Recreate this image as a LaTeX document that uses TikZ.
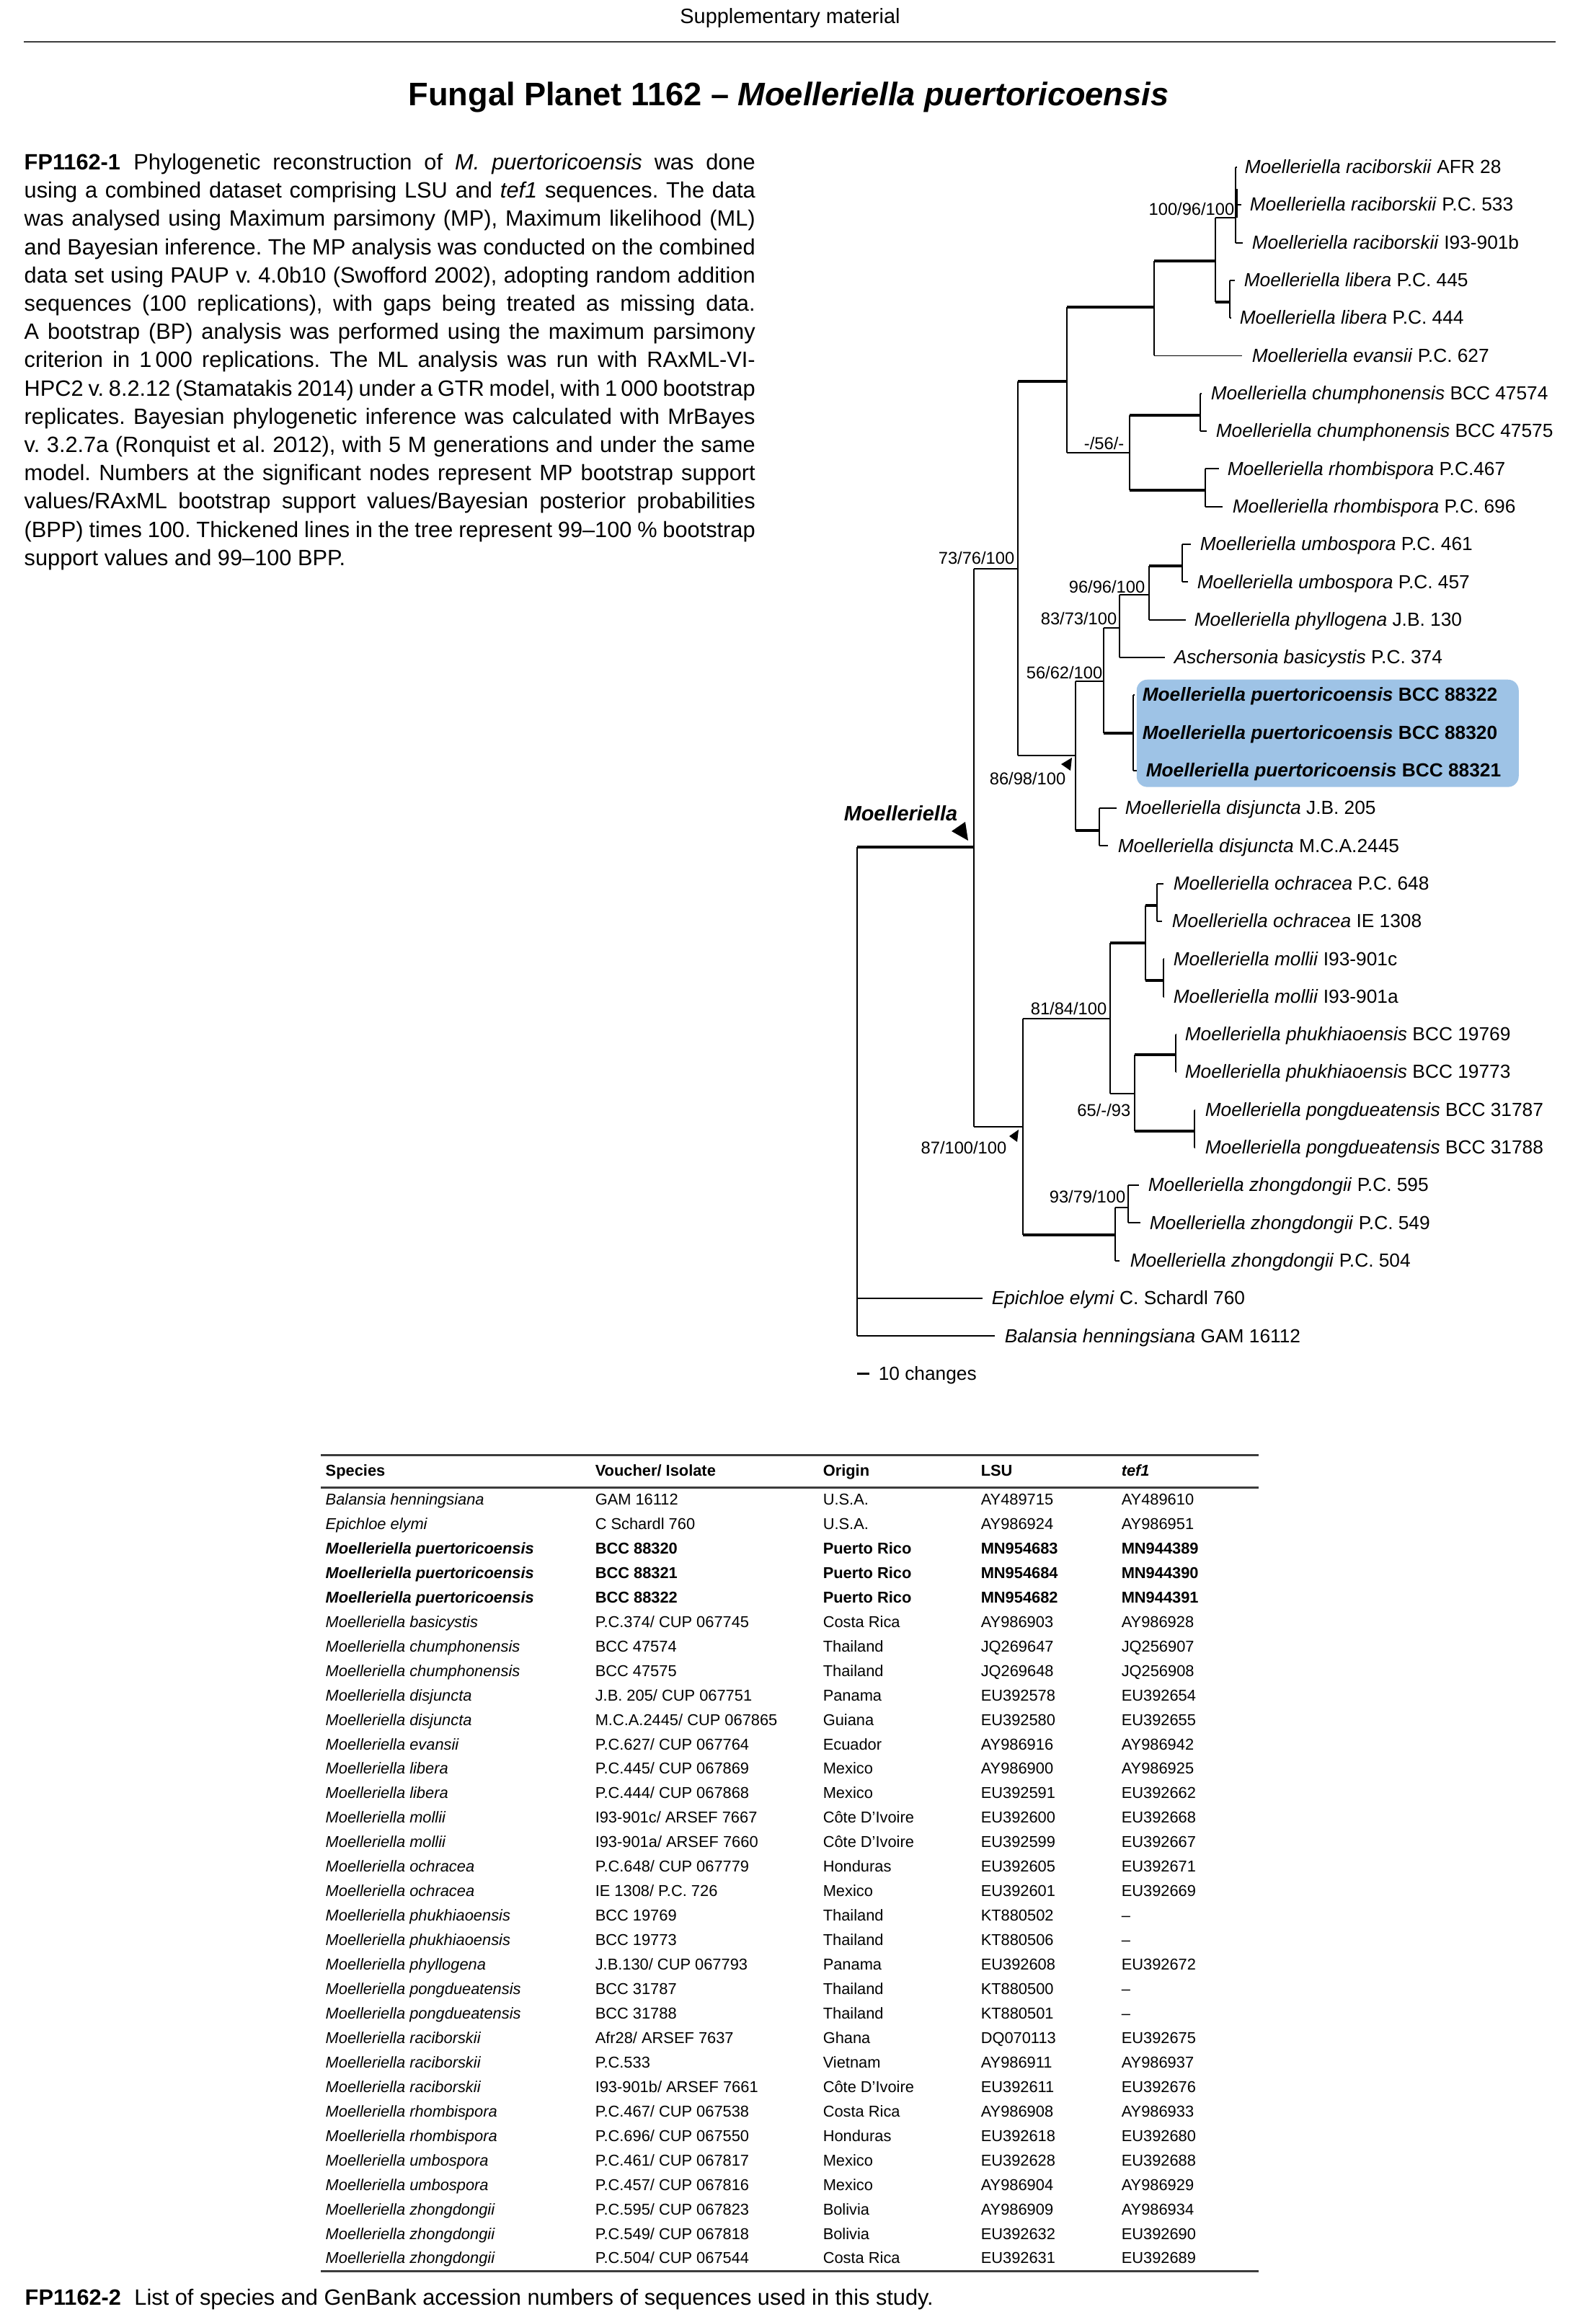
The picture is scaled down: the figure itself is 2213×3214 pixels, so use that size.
\documentclass[tikz,border=0pt]{standalone}
\usepackage{fontspec}
\setmainfont{Liberation Sans}
\frenchspacing
\definecolor{boxblue}{RGB}{158,195,230}
\definecolor{rulegray}{RGB}{60,60,60}
\newcommand{\phyleaf}[4]{%
  \pgfmathsetmacro{\ly}{232+52.3*#1}%
  \coordinate (t#1) at (#2,\ly);
  \node[leaflab] (l#1) at (#3,\ly+8.7) {#4};%
}
\newcommand{\vlink}[3]{\draw[thinbr] (#2 -| #1) -- (#3 -| #1);}
\newcommand{\hlink}[3][thinbr]{\draw[#1] (#3 -| #2) -- (#3);}
\newcommand{\tabrow}[6]{%
  \pgfmathsetmacro{\ry}{2087.5+33.95*(#1-1)}%
  \node[tcell] (sp#1) at (451,\ry) {#2};
  \node[tcell] (vo#1) at (825,\ry) {#3};
  \node[tcell] (or#1) at (1141,\ry) {#4};
  \node[tcell] (ls#1) at (1360,\ry) {#5};
  \node[tcell] (te#1) at (1555,\ry) {#6};%
}
\newcommand{\bodyln}[3]{\node[bodyline] (p#1) at (33,{235.5+39.2*(#1-1)}) {\makebox[273.8pt][s]{#3}};}
\tikzset{
  thinbr/.style={line width=0.5pt},
  thickbr/.style={line width=1.25pt},
  leaflab/.style={anchor=base west, inner sep=0pt, font=\fontsize{7.1}{8}\selectfont},
  suplab/.style={anchor=base east, inner sep=0pt, font=\fontsize{6.4}{7}\selectfont},
  tcell/.style={anchor=base west, inner sep=0pt, font=\fontsize{5.9}{7}\selectfont},
  bodyline/.style={anchor=base west, inner sep=0pt, font=\fontsize{8.3}{10}\selectfont},
  tabrule/.style={line width=0.8pt, draw=rulegray},
}
\begin{document}
\begin{tikzpicture}[x=0.27pt, y=-0.27pt]
\useasboundingbox (0,0) rectangle (2213,3214);
\fill[white] (0,0) rectangle (2213,3214);

% header
\node[anchor=base, inner sep=0pt, font=\fontsize{7.8}{9}\selectfont] (hdr) at (1096,33) {Supplementary material};
\coordinate (hl1) at (33,58); \coordinate (hl2) at (2158,58);
\draw[line width=0.7pt, draw=rulegray] (hl1) -- (hl2);
\node[anchor=base, inner sep=0pt, font=\fontsize{12.2}{14}\selectfont\bfseries] (title) at (1094,146.7) {Fungal Planet 1162 – \textit{Moelleriella puertoricoensis}};

% body text
\bodyln{1}{}{\textbf{FP1162-1}\hspace{0.6em}Phylogenetic reconstruction of \textit{M. puertoricoensis} was done}
\bodyln{2}{}{using a combined dataset comprising LSU and \textit{tef1} sequences. The data}
\bodyln{3}{}{was analysed using Maximum parsimony (MP), Maximum likelihood (ML)}
\bodyln{4}{}{and Bayesian inference. The MP analysis was conducted on the combined}
\bodyln{5}{}{data set using PAUP v. 4.0b10 (Swofford 2002), adopting random addition}
\bodyln{6}{}{sequences (100 replications), with gaps being treated as missing data.}
\bodyln{7}{}{A bootstrap (BP) analysis was performed using the maximum parsimony}
\bodyln{8}{}{criterion in 1\,000 replications. The ML analysis was run with RAxML-VI-}
\bodyln{9}{}{HPC2 v. 8.2.12 (Stamatakis 2014) under a GTR model, with 1\,000 bootstrap}
\bodyln{10}{}{replicates. Bayesian phylogenetic inference was calculated with MrBayes}
\bodyln{11}{}{v. 3.2.7a (Ronquist et al. 2012), with 5 M generations and under the same}
\bodyln{12}{}{model. Numbers at the significant nodes represent MP bootstrap support}
\bodyln{13}{}{values/RAxML bootstrap support values/Bayesian posterior probabilities}
\bodyln{14}{}{(BPP) times 100. Thickened lines in the tree represent 99–100 \% bootstrap}
\node[bodyline] (p15) at (33,{235.5+39.2*14}) {support values and 99–100 BPP.};

% highlight box
\node[fill=boxblue, rounded corners=4pt, inner sep=0pt, minimum width=143.1pt, minimum height=40.2pt, anchor=north west] (hbox) at (1576,942) {};

% leaves
\phyleaf{0}{1716}{1726}{\textit{Moelleriella raciborskii} AFR 28}
\phyleaf{1}{1722}{1733}{\textit{Moelleriella raciborskii} P.C. 533}
\phyleaf{2}{1724}{1736}{\textit{Moelleriella raciborskii} I93-901b}
\phyleaf{3}{1713}{1725}{\textit{Moelleriella libera} P.C. 445}
\phyleaf{4}{1708}{1719}{\textit{Moelleriella libera} P.C. 444}
\phyleaf{5}{1723}{1736}{\textit{Moelleriella evansii} P.C. 627}
\phyleaf{6}{1667}{1679}{\textit{Moelleriella chumphonensis} BCC 47574}
\phyleaf{7}{1674}{1686}{\textit{Moelleriella chumphonensis} BCC 47575}
\phyleaf{8}{1691}{1702}{\textit{Moelleriella rhombispora} P.C.467}
\phyleaf{9}{1696}{1709}{\textit{Moelleriella rhombispora} P.C. 696}
\phyleaf{10}{1652}{1664}{\textit{Moelleriella umbospora} P.C. 461}
\phyleaf{11}{1648}{1660}{\textit{Moelleriella umbospora} P.C. 457}
\phyleaf{12}{1645}{1656}{\textit{Moelleriella phyllogena} J.B. 130}
\phyleaf{13}{1616}{1628}{\textit{Aschersonia basicystis} P.C. 374}
\phyleaf{14}{1574}{1584}{\textbf{\textit{Moelleriella puertoricoensis} BCC 88322}}
\phyleaf{15}{1572}{1584}{\textbf{\textit{Moelleriella puertoricoensis} BCC 88320}}
\phyleaf{16}{1577}{1589}{\textbf{\textit{Moelleriella puertoricoensis} BCC 88321}}
\phyleaf{17}{1549}{1560}{\textit{Moelleriella disjuncta} J.B. 205}
\phyleaf{18}{1537}{1550}{\textit{Moelleriella disjuncta} M.C.A.2445}
\phyleaf{19}{1614}{1627}{\textit{Moelleriella ochracea} P.C. 648}
\phyleaf{20}{1612}{1625}{\textit{Moelleriella ochracea} IE 1308}
\phyleaf{21}{1615}{1627}{\textit{Moelleriella mollii} I93-901c}
\phyleaf{22}{1615}{1627}{\textit{Moelleriella mollii} I93-901a}
\phyleaf{23}{1632}{1643}{\textit{Moelleriella phukhiaoensis} BCC 19769}
\phyleaf{24}{1632}{1643}{\textit{Moelleriella phukhiaoensis} BCC 19773}
\phyleaf{25}{1658}{1671}{\textit{Moelleriella pongdueatensis} BCC 31787}
\phyleaf{26}{1658}{1671}{\textit{Moelleriella pongdueatensis} BCC 31788}
\phyleaf{27}{1580}{1592}{\textit{Moelleriella zhongdongii} P.C. 595}
\phyleaf{28}{1582}{1594}{\textit{Moelleriella zhongdongii} P.C. 549}
\phyleaf{29}{1553}{1567}{\textit{Moelleriella zhongdongii} P.C. 504}
\phyleaf{30}{1363}{1375}{\textit{Epichloe elymi} C. Schardl 760}
\phyleaf{31}{1380}{1393}{\textit{Balansia henningsiana} GAM 16112}

% internal nodes
\coordinate (root) at (1189,1175);
\coordinate (D) at (1351,1175);
\coordinate (C) at (1412,789);
\coordinate (B) at (1480,529);
\coordinate (A) at (1601,426);
\coordinate (RL) at (1686,362);
\coordinate (Rac) at (1714,302);
\coordinate (Lib) at (1706,419);
\coordinate (CR) at (1567,628);
\coordinate (Ch) at (1665,576);
\coordinate (Rh) at (1672,680);
\coordinate (E) at (1492,1048);
\coordinate (F) at (1531,945);
\coordinate (G) at (1553,871);
\coordinate (H) at (1594,825);
\coordinate (U) at (1640,785);
\coordinate (P) at (1572,1017);
\coordinate (Dis) at (1525,1152);
\coordinate (I) at (1419,1563);
\coordinate (J) at (1540,1413);
\coordinate (K) at (1589,1308);
\coordinate (O) at (1605,1256);
\coordinate (Mo) at (1614,1360);
\coordinate (L) at (1574,1517);
\coordinate (Ph) at (1631,1463);
\coordinate (Po) at (1657,1569);
\coordinate (Z) at (1547,1713);
\coordinate (Z2) at (1565,1675);

% verticals
\vlink{root}{D}{t31}
\vlink{D}{C}{I}
\vlink{C}{B}{E}
\vlink{B}{A}{CR}
\vlink{A}{RL}{t5}
\vlink{RL}{Rac}{Lib}
\vlink{Rac}{t0}{t2}
\vlink{Lib}{t3}{t4}
\vlink{CR}{Ch}{Rh}
\vlink{Ch}{t6}{t7}
\vlink{Rh}{t8}{t9}
\vlink{E}{F}{Dis}
\vlink{F}{G}{P}
\vlink{G}{H}{t13}
\vlink{H}{U}{t12}
\vlink{U}{t10}{t11}
\vlink{P}{t14}{t16}
\vlink{Dis}{t17}{t18}
\vlink{I}{J}{Z}
\vlink{J}{K}{L}
\vlink{K}{O}{Mo}
\vlink{O}{t19}{t20}
\vlink{Mo}{t21}{t22}
\vlink{L}{Ph}{Po}
\vlink{Ph}{t23}{t24}
\vlink{Po}{t25}{t26}
\vlink{Z}{Z2}{t29}
\vlink{Z2}{t27}{t28}
\draw[thickbr] (1715,262) -- (1715,302);

% horizontals
\hlink[thickbr]{root}{D}
\hlink{root}{t30}
\hlink{root}{t31}
\hlink{D}{C}
\hlink{D}{I}
\hlink[thickbr]{C}{B}
\hlink{C}{E}
\hlink[thickbr]{B}{A}
\hlink{B}{CR}
\hlink[thickbr]{A}{RL}
\hlink{A}{t5}
\hlink{RL}{Rac}
\hlink[thickbr]{RL}{Lib}
\hlink{Rac}{t0}
\hlink{Rac}{t1}
\hlink{Rac}{t2}
\hlink{Lib}{t3}
\hlink{Lib}{t4}
\hlink[thickbr]{CR}{Ch}
\hlink[thickbr]{CR}{Rh}
\hlink{Ch}{t6}
\hlink{Ch}{t7}
\hlink{Rh}{t8}
\hlink{Rh}{t9}
\hlink{E}{F}
\hlink[thickbr]{E}{Dis}
\hlink{F}{G}
\hlink[thickbr]{F}{P}
\hlink{G}{H}
\hlink{G}{t13}
\hlink[thickbr]{H}{U}
\hlink{H}{t12}
\hlink{U}{t10}
\hlink{U}{t11}
\hlink{P}{t14}
\hlink{P}{t15}
\hlink{P}{t16}
\hlink{Dis}{t17}
\hlink{Dis}{t18}
\hlink{I}{J}
\hlink[thickbr]{I}{Z}
\hlink[thickbr]{J}{K}
\hlink{J}{L}
\hlink[thickbr]{K}{O}
\hlink[thickbr]{K}{Mo}
\hlink{O}{t19}
\hlink{O}{t20}
\hlink{Mo}{t21}
\hlink{Mo}{t22}
\hlink[thickbr]{L}{Ph}
\hlink[thickbr]{L}{Po}
\hlink{Ph}{t23}
\hlink{Ph}{t24}
\hlink{Po}{t25}
\hlink{Po}{t26}
\hlink{Z}{Z2}
\hlink{Z}{t29}
\hlink{Z2}{t27}
\hlink{Z2}{t28}

% support values
\node[suplab] (sRac) at (1713,299) {100/96/100};
\node[suplab] (sC) at (1408,782) {73/76/100};
\node[suplab] (sCR) at (1560,623) {-/56/-};
\node[suplab] (sH) at (1589,822) {96/96/100};
\node[suplab] (sG) at (1550,866) {83/73/100};
\node[suplab] (sF) at (1530,941) {56/62/100};
\node[suplab] (sE) at (1479,1088) {86/98/100};
\node[suplab] (sJ) at (1536,1407) {81/84/100};
\node[suplab] (sL) at (1569,1548) {65/-/93};
\node[suplab] (sI) at (1397,1600) {87/100/100};
\node[suplab] (sZ2) at (1562,1668) {93/79/100};

% markers
\fill (1472,1060) -- (1487,1051) -- (1485,1069) -- cycle;
\fill (1400,1576) -- (1413,1567) -- (1411,1584) -- cycle;
\fill (1339,1140) -- (1343,1166) -- (1320,1153) -- cycle;
\node[anchor=base west, inner sep=0pt, font=\fontsize{7.8}{9}\selectfont\bfseries\itshape] (clade) at (1170,1138) {Moelleriella};

% scale bar
\coordinate (sb1) at (1189,1905); \coordinate (sb2) at (1206,1905);
\draw[line width=0.8pt] (sb1) -- (sb2);
\node[leaflab] (sbl) at (1218,1914) {10 changes};

% table
\coordinate (r1a) at (445,2018); \coordinate (r1b) at (1746,2018);
\coordinate (r2a) at (445,2063); \coordinate (r2b) at (1746,2063);
\coordinate (r3a) at (445,3150); \coordinate (r3b) at (1746,3150);
\draw[tabrule] (r1a) -- (r1b);
\draw[tabrule] (r2a) -- (r2b);
\draw[tabrule] (r3a) -- (r3b);
\node[tcell, font=\fontsize{5.9}{7}\selectfont\bfseries] (h1) at (451,2047.3) {Species};
\node[tcell, font=\fontsize{5.9}{7}\selectfont\bfseries] (h2) at (825,2047.3) {Voucher/ Isolate};
\node[tcell, font=\fontsize{5.9}{7}\selectfont\bfseries] (h3) at (1141,2047.3) {Origin};
\node[tcell, font=\fontsize{5.9}{7}\selectfont\bfseries] (h4) at (1360,2047.3) {LSU};
\node[tcell, font=\fontsize{5.9}{7}\selectfont\bfseries\itshape] (h5) at (1555,2047.3) {tef1};

\tabrow{1}{\textit{Balansia henningsiana}}{GAM 16112}{U.S.A.}{AY489715}{AY489610}
\tabrow{2}{\textit{Epichloe elymi}}{C Schardl 760}{U.S.A.}{AY986924}{AY986951}
\tabrow{3}{\textbf{\textit{Moelleriella puertoricoensis}}}{\textbf{BCC 88320}}{\textbf{Puerto Rico}}{\textbf{MN954683}}{\textbf{MN944389}}
\tabrow{4}{\textbf{\textit{Moelleriella puertoricoensis}}}{\textbf{BCC 88321}}{\textbf{Puerto Rico}}{\textbf{MN954684}}{\textbf{MN944390}}
\tabrow{5}{\textbf{\textit{Moelleriella puertoricoensis}}}{\textbf{BCC 88322}}{\textbf{Puerto Rico}}{\textbf{MN954682}}{\textbf{MN944391}}
\tabrow{6}{\textit{Moelleriella basicystis}}{P.C.374/ CUP 067745}{Costa Rica}{AY986903}{AY986928}
\tabrow{7}{\textit{Moelleriella chumphonensis}}{BCC 47574}{Thailand}{JQ269647}{JQ256907}
\tabrow{8}{\textit{Moelleriella chumphonensis}}{BCC 47575}{Thailand}{JQ269648}{JQ256908}
\tabrow{9}{\textit{Moelleriella disjuncta}}{J.B. 205/ CUP 067751}{Panama}{EU392578}{EU392654}
\tabrow{10}{\textit{Moelleriella disjuncta}}{M.C.A.2445/ CUP 067865}{Guiana}{EU392580}{EU392655}
\tabrow{11}{\textit{Moelleriella evansii}}{P.C.627/ CUP 067764}{Ecuador}{AY986916}{AY986942}
\tabrow{12}{\textit{Moelleriella libera}}{P.C.445/ CUP 067869}{Mexico}{AY986900}{AY986925}
\tabrow{13}{\textit{Moelleriella libera}}{P.C.444/ CUP 067868}{Mexico}{EU392591}{EU392662}
\tabrow{14}{\textit{Moelleriella mollii}}{I93-901c/ ARSEF 7667}{Côte D’Ivoire}{EU392600}{EU392668}
\tabrow{15}{\textit{Moelleriella mollii}}{I93-901a/ ARSEF 7660}{Côte D’Ivoire}{EU392599}{EU392667}
\tabrow{16}{\textit{Moelleriella ochracea}}{P.C.648/ CUP 067779}{Honduras}{EU392605}{EU392671}
\tabrow{17}{\textit{Moelleriella ochracea}}{IE 1308/ P.C. 726}{Mexico}{EU392601}{EU392669}
\tabrow{18}{\textit{Moelleriella phukhiaoensis}}{BCC 19769}{Thailand}{KT880502}{–}
\tabrow{19}{\textit{Moelleriella phukhiaoensis}}{BCC 19773}{Thailand}{KT880506}{–}
\tabrow{20}{\textit{Moelleriella phyllogena}}{J.B.130/ CUP 067793}{Panama}{EU392608}{EU392672}
\tabrow{21}{\textit{Moelleriella pongdueatensis}}{BCC 31787}{Thailand}{KT880500}{–}
\tabrow{22}{\textit{Moelleriella pongdueatensis}}{BCC 31788}{Thailand}{KT880501}{–}
\tabrow{23}{\textit{Moelleriella raciborskii}}{Afr28/ ARSEF 7637}{Ghana}{DQ070113}{EU392675}
\tabrow{24}{\textit{Moelleriella raciborskii}}{P.C.533}{Vietnam}{AY986911}{AY986937}
\tabrow{25}{\textit{Moelleriella raciborskii}}{I93-901b/ ARSEF 7661}{Côte D’Ivoire}{EU392611}{EU392676}
\tabrow{26}{\textit{Moelleriella rhombispora}}{P.C.467/ CUP 067538}{Costa Rica}{AY986908}{AY986933}
\tabrow{27}{\textit{Moelleriella rhombispora}}{P.C.696/ CUP 067550}{Honduras}{EU392618}{EU392680}
\tabrow{28}{\textit{Moelleriella umbospora}}{P.C.461/ CUP 067817}{Mexico}{EU392628}{EU392688}
\tabrow{29}{\textit{Moelleriella umbospora}}{P.C.457/ CUP 067816}{Mexico}{AY986904}{AY986929}
\tabrow{30}{\textit{Moelleriella zhongdongii}}{P.C.595/ CUP 067823}{Bolivia}{AY986909}{AY986934}
\tabrow{31}{\textit{Moelleriella zhongdongii}}{P.C.549/ CUP 067818}{Bolivia}{EU392632}{EU392690}
\tabrow{32}{\textit{Moelleriella zhongdongii}}{P.C.504/ CUP 067544}{Costa Rica}{EU392631}{EU392689}

% caption
\node[bodyline] (cap) at (34,3197) {\textbf{FP1162-2}\hspace{0.6em}List of species and GenBank accession numbers of sequences used in this study.};
\end{tikzpicture}
\end{document}
